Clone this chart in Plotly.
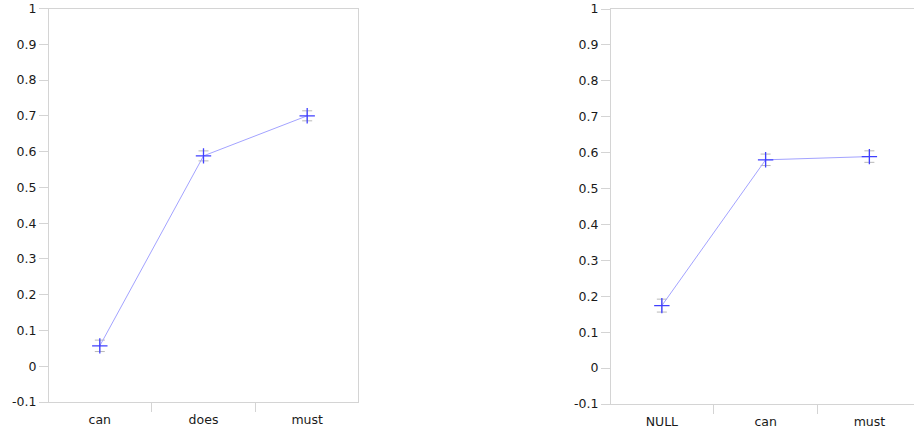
import plotly.graph_objects as go

# Left panel: proportions by modal
left_cats = ["can", "does", "must"]
left_vals = [0.057, 0.588, 0.700]
left_err = [0.016, 0.014, 0.014]

# Right panel: proportions by modal (with NULL baseline)
right_cats = ["NULL", "can", "must"]
right_vals = [0.174, 0.580, 0.589]
right_err = [0.018, 0.016, 0.016]

y_tickvals = [-0.1, 0, 0.1, 0.2, 0.3, 0.4, 0.5, 0.6, 0.7, 0.8, 0.9, 1]
y_ticktext = ["-0.1", "0", "0.1", "0.2", "0.3", "0.4", "0.5", "0.6", "0.7", "0.8", "0.9", "1"]

W, H = 914, 433
AXIS_COLOR = "#d4d4d4"
LINE_COLOR = "#a3a3ff"
MARKER_COLOR = "#4040ff"
ERR_COLOR = "#b8b8b8"
FONT = dict(family="DejaVu Sans", size=12.5, color="#1a1a1a")


def series(cats, vals, errs, xa, ya):
    return go.Scatter(
        x=cats, y=vals, xaxis=xa, yaxis=ya,
        mode="lines+markers",
        line=dict(color=LINE_COLOR, width=1),
        marker=dict(symbol="cross-thin", size=11, color=MARKER_COLOR,
                    line=dict(color=MARKER_COLOR, width=1.3)),
        error_y=dict(type="data", array=errs, visible=True,
                     color=ERR_COLOR, thickness=1, width=5),
        showlegend=False, hoverinfo="x+y",
    )


fig = go.Figure()
fig.add_trace(series(left_cats, left_vals, left_err, "x", "y"))
fig.add_trace(series(right_cats, right_vals, right_err, "x2", "y2"))

xcommon = dict(
    type="category", showgrid=False, zeroline=False, automargin=False,
    showline=True, linecolor=AXIS_COLOR, linewidth=1, mirror=True,
    ticks="outside", tickson="boundaries", ticklen=9, tickcolor=AXIS_COLOR,
    ticklabelstandoff=6, tickfont=FONT, fixedrange=True,
)
ycommon = dict(
    range=[-0.1, 1], tickvals=y_tickvals, ticktext=y_ticktext,
    showgrid=False, zeroline=False, automargin=False,
    showline=True, linecolor=AXIS_COLOR, linewidth=1,
    ticks="outside", ticklen=9, tickcolor=AXIS_COLOR,
    tickfont=FONT, fixedrange=True,
)

fig.update_layout(
    width=W, height=H,
    margin=dict(l=0, r=0, t=0, b=0, autoexpand=False),
    paper_bgcolor="white", plot_bgcolor="white",
    xaxis=dict(xcommon, domain=[49 / W, 358 / W], range=[-0.49, 2.49], anchor="y"),
    yaxis=dict(ycommon, domain=[(H - 402) / H, (H - 8.5) / H], anchor="x", mirror=True),
    xaxis2=dict(xcommon, domain=[611 / W, 1.0], range=[-0.49, 2.43], anchor="y2"),
    yaxis2=dict(ycommon, domain=[(H - 404) / H, (H - 9) / H], anchor="x2", mirror=False),
)

fig.write_html("out.html")
